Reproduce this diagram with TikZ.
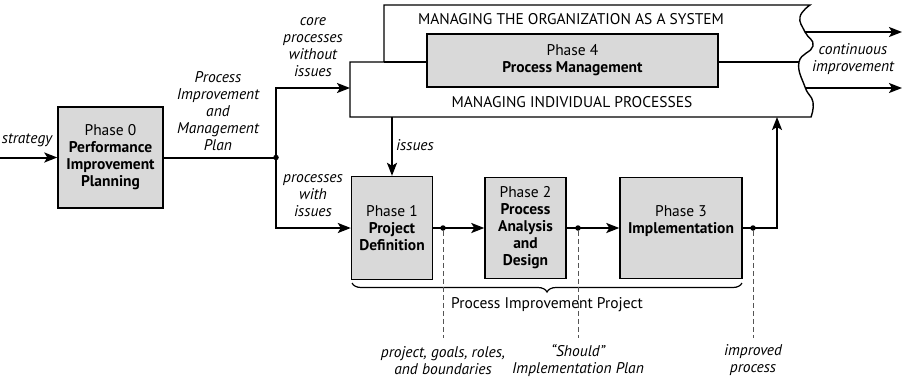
\documentclass[tikz,border=0pt]{standalone}
\usepackage{fontspec}
\setmainfont{PT Sans}
\usetikzlibrary{arrows.meta,positioning,decorations.pathreplacing,calc}
\definecolor{boxgray}{HTML}{D9D9D9}
\definecolor{tapgray}{HTML}{555555}
\tikzset{
  phase_box/.style={draw=black,fill=boxgray,line width=1.4pt,inner sep=0pt,
    align=center,font=\fontsize{15.5}{17}\selectfont},
  lbl/.style={align=center,inner sep=0pt,font=\fontsize{15.5}{17}\selectfont\itshape},
  caps/.style={inner sep=0pt,font=\fontsize{15.5}{17}\selectfont},
  arr/.style={-{Stealth[length=13pt,width=10pt,inset=3pt]},line width=2pt},
  flow/.style={line width=2pt},
  dot/.style={circle,fill=black,inner sep=0pt,minimum size=5.5pt},
  tap/.style={draw=tapgray,line width=0.8pt,dash pattern=on 5pt off 3pt},
}

\begin{document}
\begin{tikzpicture}[x=1pt,y=-1pt]
    \useasboundingbox (0,0) rectangle (903,381);
    % managing frame with wavy right edge
    \draw[line width=1.4pt] (384,62) -- (384,5) -- (810,5)
      -- plot[smooth,tension=0.8] coordinates {(810,5) (800,17) (805,32) (813,46) (799,62) (805,87) (813,102) (811,117)}
      -- (350,117) -- (350,62) -- cycle;
    \draw[line width=1.4pt] (384,62) -- (799,62);
    \node[caps] (sysT) at (571,19) {MANAGING THE ORGANIZATION AS A SYSTEM};
    \node[caps] (indT) at (572,102) {MANAGING INDIVIDUAL PROCESSES};
    \node[phase_box,minimum width=291pt,minimum height=53pt] (p4) at (572.5,60.5) {Phase 4\\\textbf{Process Management}};
    \coordinate (indW) at (350,88);
    \coordinate (issTop) at (392,117);
    \coordinate (indS) at (777,117);
    \coordinate (cont1) at (805,32); \coordinate (out1) at (902,32);
    \coordinate (cont2) at (805,88); \coordinate (out2) at (902,88);
    \coordinate (strat) at (0,157.5);

    \node[phase_box,minimum width=105pt,minimum height=101pt] (p0) at (110.5,157.5) {Phase 0\\\textbf{Performance}\\\textbf{Improvement}\\\textbf{Planning}};
    \node[phase_box,minimum width=81pt,minimum height=103pt] (p1) at (392,228) {Phase 1\\\textbf{Project}\\\textbf{Definition}};
    \node[phase_box,minimum width=81pt,minimum height=101pt] (p2) at (525.5,228) {Phase 2\\\textbf{Process}\\\textbf{Analysis}\\\textbf{and}\\\textbf{Design}};
    \node[phase_box,minimum width=122pt,minimum height=101pt] (p3) at (681,228) {Phase 3\\\textbf{Implementation}\\\mbox{}};

    \node[dot] (j0) at (276,157.5) {};
    \node[dot] (d1) at (443,228) {};
    \node[dot] (d2) at (578,228) {};
    \node[dot] (d3) at (753,228) {};

    \draw[arr](strat)--(p0);\draw[flow](p0)--(j0.center);
    \draw[arr](j0.center)|-(indW);\draw[arr](j0.center)|-(p1);
    \draw[arr](issTop)--(p1);
    \draw[flow](p1)--(d1.center);\draw[arr](d1.center)--(p2);
    \draw[flow](p2)--(d2.center);\draw[arr](d2.center)--(p3);
    \draw[flow](p3)--(d3.center);\draw[arr](d3.center)-|(indS);
    \draw[arr](cont1)--(out1);\draw[arr](cont2)--(out2);

    % project brace
    \coordinate (br1) at (352,283); \coordinate (br2) at (742,283);
    \draw[line width=1.2pt,decorate,decoration={brace,mirror,amplitude=9pt}] (br1) -- (br2);
    \node[caps] (projL) at (547,305) {Process Improvement Project};

    % deliverables
    \coordinate (t1) at (443,338); \coordinate (t2) at (578,338); \coordinate (t3) at (753,338);
    \draw[tap](d1)--(t1);\draw[tap](d2)--(t2);\draw[tap](d3)--(t3);

    \node[lbl] (strL) at (27,140) {strategy};
    \node[lbl] (pimpL) at (218,111.5) {Process\\Improvement\\and\\Management\\Plan};
    \node[lbl] (coreL) at (313,47.5) {core\\processes\\without\\issues};
    \node[lbl] (withL) at (313,196) {processes\\with\\issues};
    \node[lbl] (issL) at (415,145) {issues};
    \node[lbl] (contL) at (853,59.5) {continuous\\improvement};
    \node[lbl] (pgL) at (443,360.5) {project, goals, roles,\\and boundaries};
    \node[lbl] (shL) at (578,360.5) {“Should”\\Implementation Plan};
    \node[lbl] (ipL) at (753,360.5) {improved\\process};
  \end{tikzpicture}
\end{document}
